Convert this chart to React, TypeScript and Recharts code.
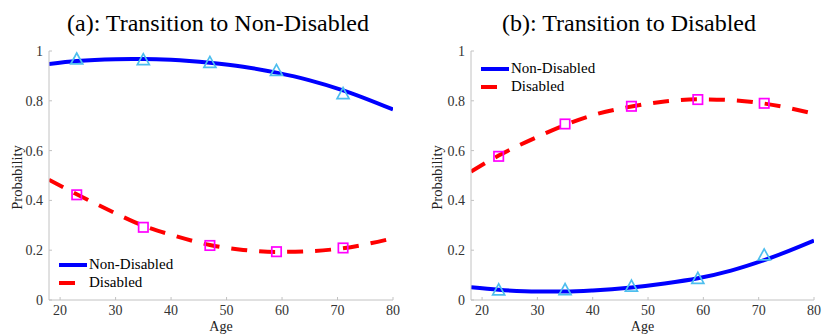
import React from "react";
import { ComposedChart, Line, Scatter, XAxis, YAxis, Legend } from "recharts";

const ages = [18, 23, 30, 35, 40, 47, 53, 59, 65, 71, 80];
const sampleAges = [23, 35, 47, 59, 71];
const ageTicks = [20, 30, 40, 50, 60, 70, 80];
const probTicks = [0, 0.2, 0.4, 0.6, 0.8, 1];

// (a) transition to non-disabled, fitted curves and sample points
const aFromNonDisabled = [0.948, 0.96, 0.967, 0.968, 0.965, 0.953, 0.937, 0.913, 0.882, 0.842, 0.765];
const aFromDisabled = [0.483, 0.425, 0.348, 0.298, 0.262, 0.221, 0.201, 0.193, 0.196, 0.208, 0.248];
const aSampleNonDisabled = [0.97, 0.967, 0.956, 0.924, 0.831];
const aSampleDisabled = [0.4225, 0.292, 0.219, 0.194, 0.209];

// (b) transition to disabled
const bFromNonDisabled = [0.051, 0.041, 0.034, 0.034, 0.038, 0.05, 0.066, 0.087, 0.118, 0.16, 0.239];
const bFromDisabled = [0.516, 0.58, 0.655, 0.703, 0.742, 0.777, 0.797, 0.806, 0.803, 0.789, 0.748];
const bSampleNonDisabled = [0.043, 0.044, 0.058, 0.089, 0.183];
const bSampleDisabled = [0.577, 0.707, 0.778, 0.805, 0.79];

const SERIF = "Liberation Serif";
const BLUE = "#0000ff";
const RED = "#ff0000";
const CYAN = "#4dbeee";
const MAGENTA = "#ff00ff";
const AXIS = "#c2c2c2";
const DASH = "16 12";

const toRows = (xs: number[], ys: number[]) => xs.map((age, i) => ({ age, p: ys[i] }));

const legendItems = [
  { name: "Non-Disabled", color: BLUE, dash: undefined as string | undefined },
  { name: "Disabled", color: RED, dash: DASH },
];

function Triangle(props: any) {
  const { cx, cy } = props;
  if (cx == null || cy == null) return null;
  const w = 6,
    h = 5.5;
  return (
    <polygon
      points={`${cx},${cy - h} ${cx - w},${cy + h} ${cx + w},${cy + h}`}
      fill="none"
      stroke={CYAN}
      strokeWidth={1.7}
    />
  );
}

function Square(props: any) {
  const { cx, cy } = props;
  if (cx == null || cy == null) return null;
  const s = 4.7;
  return <rect x={cx - s} y={cy - s} width={s * 2} height={s * 2} fill="none" stroke={MAGENTA} strokeWidth={1.7} />;
}

function Key() {
  return (
    <div style={{ fontFamily: SERIF, fontSize: 15, color: "#000" }}>
      {legendItems.map((it) => (
        <div key={it.name} style={{ display: "flex", alignItems: "center", height: 17.7, lineHeight: "17.7px" }}>
          <svg width={30} height={6} style={{ display: "block" }}>
            <line x1={0} y1={3} x2={28} y2={3} stroke={it.color} strokeWidth={4} strokeDasharray={it.dash} />
          </svg>
          <span>{it.name}</span>
        </div>
      ))}
    </div>
  );
}

interface PanelProps {
  left: number;
  title: string;
  titleX: number;
  nonDis: number[];
  dis: number[];
  nonDisPts: number[];
  disPts: number[];
  yAxisWidth: number;
  marginRight: number;
  labelDx: number;
  keyLeft: number;
  keyTop: number;
}

function Panel(p: PanelProps) {
  const tickStyle = { fontSize: 14, fill: "#333", style: { fontFamily: SERIF } };
  const nameStyle = { fontFamily: SERIF, fontSize: 14, fill: "#222" };
  return (
    <div style={{ position: "absolute", left: p.left, top: 0, width: 413, height: 334, fontFamily: SERIF }}>
      <ComposedChart width={413} height={334} margin={{ top: 51, right: p.marginRight, bottom: 0, left: 0 }}>
        <XAxis
          type="number"
          dataKey="age"
          domain={[18, 80]}
          ticks={ageTicks}
          allowDataOverflow
          height={34}
          tick={tickStyle}
          tickSize={-3}
          tickMargin={8.5}
          axisLine={{ stroke: AXIS }}
          tickLine={{ stroke: AXIS }}
          label={{ value: "Age", position: "center", dy: 9, style: nameStyle }}
        />
        <YAxis
          type="number"
          domain={[0, 1]}
          ticks={probTicks}
          width={p.yAxisWidth}
          tick={tickStyle}
          tickSize={-3}
          tickMargin={9}
          axisLine={{ stroke: AXIS }}
          tickLine={{ stroke: AXIS }}
          tickFormatter={(v: number) => String(v)}
          label={{
            value: "Probability",
            angle: -90,
            position: "center",
            dx: p.labelDx,
            dy: 2,
            style: { ...nameStyle, fontSize: 14.5 },
          }}
        />
        <Line
          data={toRows(ages, p.nonDis)}
          dataKey="p"
          type="monotone"
          stroke={BLUE}
          strokeWidth={4}
          dot={false}
          activeDot={false}
          isAnimationActive={false}
        />
        <Line
          data={toRows(ages, p.dis)}
          dataKey="p"
          type="monotone"
          stroke={RED}
          strokeWidth={4}
          strokeDasharray={DASH}
          dot={false}
          activeDot={false}
          isAnimationActive={false}
        />
        <Scatter data={toRows(sampleAges, p.nonDisPts)} dataKey="p" shape={Triangle} isAnimationActive={false} />
        <Scatter data={toRows(sampleAges, p.disPts)} dataKey="p" shape={Square} isAnimationActive={false} />
        <Legend
          layout="horizontal"
          verticalAlign="middle"
          align="center"
          content={() => <Key />}
          wrapperStyle={{ left: p.keyLeft, top: p.keyTop, width: "auto" }}
        />
      </ComposedChart>
      <div
        style={{
          position: "absolute",
          left: p.titleX - 200,
          top: 10.5,
          width: 400,
          textAlign: "center",
          fontFamily: SERIF,
          fontSize: 24,
          lineHeight: "24px",
          color: "#000",
        }}
      >
        {p.title}
      </div>
    </div>
  );
}

export default function App() {
  return (
    <div style={{ position: "absolute", left: 0, top: 0, width: 827, height: 334, background: "#fff", fontFamily: SERIF }}>
      <Panel
        left={0}
        title="(a): Transition to Non-Disabled"
        titleX={218}
        nonDis={aFromNonDisabled}
        dis={aFromDisabled}
        nonDisPts={aSampleNonDisabled}
        disPts={aSampleDisabled}
        yAxisWidth={49}
        marginRight={20}
        labelDx={-7.5}
        keyLeft={59}
        keyTop={256}
      />
      <Panel
        left={414}
        title="(b): Transition to Disabled"
        titleX={215}
        nonDis={bFromNonDisabled}
        dis={bFromDisabled}
        nonDisPts={bSampleNonDisabled}
        disPts={bSampleDisabled}
        yAxisWidth={57}
        marginRight={13}
        labelDx={-5.5}
        keyLeft={67}
        keyTop={60}
      />
    </div>
  );
}
